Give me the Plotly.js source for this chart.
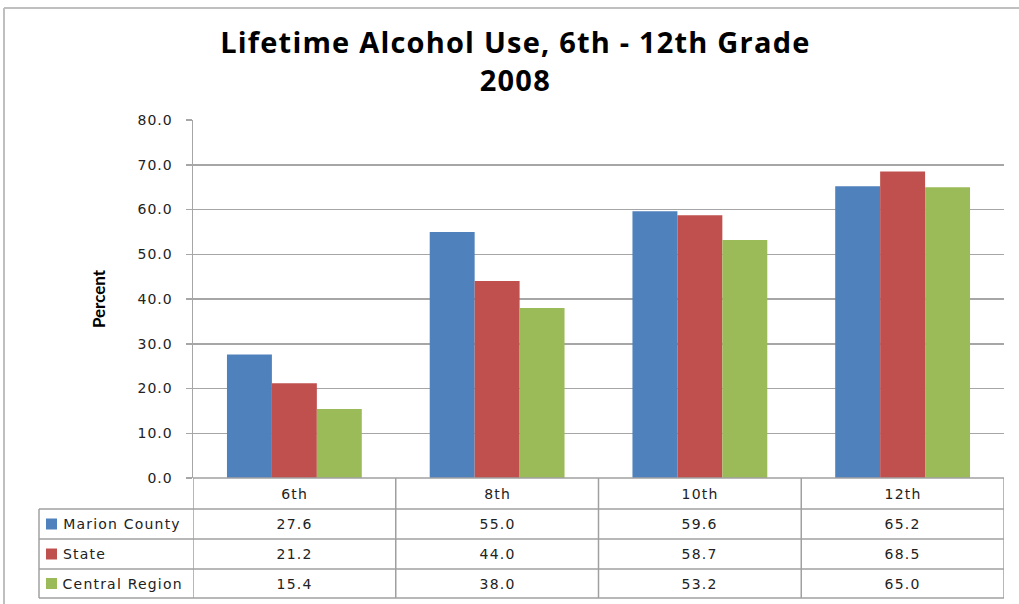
<!DOCTYPE html>
<html>
<head>
<meta charset="utf-8">
<script src="https://cdn.plot.ly/plotly-3.0.1.min.js"></script>
<style>
html,body{margin:0;padding:0;background:#fff;}
#chart{width:1019px;height:604px;}
#chart .annotation-text{letter-spacing:1.2px;}
#chart .ytick text{letter-spacing:1px;}
</style>
</head>
<body>
<div id="chart"></div>
<script>
const categories = ["6th", "8th", "10th", "12th"];
const seriesNames = ["Marion County", "State", "Central Region"];
const marionCounty = [27.6, 55.0, 59.6, 65.2];
const state = [21.2, 44.0, 58.7, 68.5];
const centralRegion = [15.4, 38.0, 53.2, 65.0];
const yTicks = [0, 10, 20, 30, 40, 50, 60, 70, 80];
const titleText = "Lifetime Alcohol Use, 6th - 12th Grade<br>2008";

const seriesValues = [marionCounty, state, centralRegion];
const colors = ["#4F81BD", "#C0504D", "#9BBB59"];

const W = 1019, H = 604;
const L = 193, R = 15, T = 120, B = 126;
const plotW = W - L - R, plotH = H - T - B;
const px = x => (x - L) / plotW;
const py = y => (H - B - y) / plotH;
const SPACING = 1.2;

const traces = seriesValues.map((vals, i) => ({
  type: "bar",
  name: seriesNames[i],
  x: categories,
  y: vals,
  marker: { color: colors[i] },
  hoverinfo: "x+y+name"
}));

const gridCol = "#a6a6a6";
const tableCol = "#a0a0a0";
const rowY = [478, 509, 539, 569, 598];
const shapes = [];
const annotations = [];

// outer frame
shapes.push({ type: "line", xref: "paper", yref: "paper", x0: px(4), x1: px(1030), y0: py(8), y1: py(8), line: { color: "#bfbfbf", width: 2 } });
shapes.push({ type: "line", xref: "paper", yref: "paper", x0: px(4), x1: px(4), y0: py(8), y1: py(620), line: { color: "#bfbfbf", width: 2 } });

// table grid
shapes.push({ type: "line", xref: "paper", yref: "paper", x0: 0, x1: 1, y0: py(rowY[0]), y1: py(rowY[0]), line: { color: tableCol, width: 1.5 } });
for (let r = 1; r < rowY.length; r++) {
  shapes.push({ type: "line", xref: "paper", yref: "paper", x0: px(39), x1: 1, y0: py(rowY[r]), y1: py(rowY[r]), line: { color: tableCol, width: 1.5 } });
}
shapes.push({ type: "line", xref: "paper", yref: "paper", x0: px(39), x1: px(39), y0: py(rowY[1]), y1: py(rowY[4]), line: { color: tableCol, width: 1.5 } });
for (let c = 0; c <= categories.length; c++) {
  shapes.push({ type: "line", xref: "x", yref: "paper", x0: c - 0.5, x1: c - 0.5, y0: py(rowY[0]), y1: py(rowY[4]), line: { color: tableCol, width: 1.5 } });
}

const cellFont = { family: "DejaVu Sans, Verdana, sans-serif", size: 14, color: "#222" };
categories.forEach((c, i) => {
  annotations.push({ xref: "x", yref: "paper", x: i, y: py((rowY[0] + rowY[1]) / 2), text: c, showarrow: false, font: cellFont, xanchor: "center", yanchor: "middle" });
});
seriesValues.forEach((vals, s) => {
  const yMid = py((rowY[s + 1] + rowY[s + 2]) / 2);
  vals.forEach((v, i) => {
    annotations.push({ xref: "x", yref: "paper", x: i, y: yMid, text: v.toFixed(1), showarrow: false, font: cellFont, xanchor: "center", yanchor: "middle" });
  });
  const yc = (rowY[s + 1] + rowY[s + 2]) / 2;
  shapes.push({ type: "rect", xref: "paper", yref: "paper", x0: px(46), x1: px(57), y0: py(yc - 5.5), y1: py(yc + 5.5), fillcolor: colors[s], line: { width: 0 } });
  // compensate for letter-spacing not being included in Plotly's text measurement
  const shift = seriesNames[s].length * SPACING / 2;
  annotations.push({ xref: "paper", yref: "paper", x: px(61 + shift), y: yMid, text: seriesNames[s], showarrow: false, font: cellFont, xanchor: "left", yanchor: "middle" });
});

// title
annotations.push({
  xref: "paper", yref: "paper", x: px(515), y: py(60),
  text: titleText, showarrow: false,
  font: { family: "Open Sans, Lato, sans-serif", size: 29, color: "#000", weight: "bold" },
  xanchor: "center", yanchor: "middle", align: "center"
});

const layout = {
  width: W, height: H,
  margin: { l: L, r: R, t: T, b: B, pad: 0 },
  paper_bgcolor: "#ffffff",
  plot_bgcolor: "#ffffff",
  showlegend: false,
  barmode: "group",
  bargap: 0.335,
  bargroupgap: 0,
  xaxis: {
    type: "category",
    range: [-0.5, categories.length - 0.5],
    showticklabels: false,
    ticks: "",
    showgrid: false,
    zeroline: false,
    showline: false,
    fixedrange: true
  },
  yaxis: {
    range: [0, 80],
    tickvals: yTicks,
    ticktext: yTicks.map(v => v.toFixed(1)),
    tickfont: { family: "DejaVu Sans, Verdana, sans-serif", size: 14, color: "#222" },
    ticks: "outside",
    ticklen: 6,
    tickcolor: gridCol,
    tickwidth: 1.5,
    showgrid: true,
    gridcolor: gridCol,
    gridwidth: 1.5,
    zeroline: false,
    showline: true,
    linecolor: gridCol,
    linewidth: 1.5,
    ticklabelstandoff: 10,
    title: {
      text: "Percent",
      font: { family: "Lato, Calibri, sans-serif", size: 17, color: "#000", weight: "bold" },
      standoff: 31
    },
    fixedrange: true
  },
  shapes: shapes,
  annotations: annotations
};

Plotly.newPlot("chart", traces, layout, { displayModeBar: false, staticPlot: true });
</script>
</body>
</html>
